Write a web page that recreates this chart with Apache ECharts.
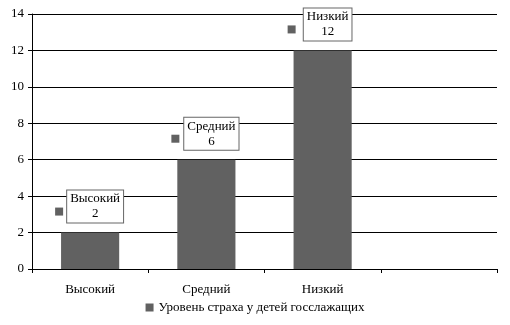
<!DOCTYPE html>
<html>
<head>
<meta charset="utf-8">
<script src="https://cdn.jsdelivr.net/npm/echarts@6/dist/echarts.min.js"></script>
<style>
  html, body { margin: 0; padding: 0; background: #fff; }
  #barChart { width: 510px; height: 325px; }
</style>
</head>
<body>
<div id="barChart"></div>
<script>
// categories (the 4th slot is empty in the original)
const categories = ['Высокий', 'Средний', 'Низкий', ''];
const fearLevel = [2, 6, 12];
const seriesName = 'Уровень страха у детей госслажащих';
const yTicks = { min: 0, max: 14, interval: 2 };

const font = '"Liberation Serif", "Times New Roman", serif';
const barColor = '#616161';

const chartOption = {
    animation: false,
    textStyle: { fontFamily: font },
    legend: {
        show: true,
        bottom: 6,
        left: 'center',
        icon: 'rect',
        itemWidth: 8,
        itemHeight: 8,
        itemGap: 4,
        textStyle: { color: '#000', fontSize: 13, fontFamily: font },
        data: [seriesName]
    },
    grid: {
        top: 14, left: 32, right: 13, bottom: 56
    },
    xAxis: {
        type: 'category',
        data: categories,
        boundaryGap: true,
        axisTick: { show: true, length: 4, alignWithLabel: false, lineStyle: { color: '#000' } },
        axisLine: { show: true, lineStyle: { color: '#000', width: 1 } },
        axisLabel: { color: '#000', fontSize: 13, fontFamily: font, margin: 14 },
        splitLine: { show: false }
    },
    yAxis: {
        type: 'value',
        min: yTicks.min,
        max: yTicks.max,
        interval: yTicks.interval,
        axisTick: { show: true, length: 4, lineStyle: { color: '#000' } },
        axisLine: { show: true, lineStyle: { color: '#000', width: 1 } },
        axisLabel: { color: '#000', fontSize: 13, fontFamily: font, margin: 8 },
        splitLine: { show: true, lineStyle: { color: '#000', width: 1 } }
    },
    series: [
        {
            name: seriesName,
            type: 'bar',
            data: fearLevel,
            barWidth: '50%',
            itemStyle: { color: barColor },
            label: {
                show: true,
                position: 'top',
                distance: 10,
                offset: [5, 0],
                formatter: '{b}\n{c}',
                color: '#000',
                fontSize: 13,
                fontFamily: font,
                lineHeight: 15,
                align: 'center',
                backgroundColor: '#fff',
                borderColor: '#666',
                borderWidth: 1,
                padding: [1, 3, 1, 3]
            },
            markPoint: {
                symbol: 'rect',
                symbolSize: 8,
                symbolOffset: [-31, -21],
                silent: true,
                itemStyle: { color: barColor },
                label: { show: false },
                data: fearLevel.map((v, i) => ({ coord: [i, v] }))
            }
        }
    ]
};

const myChart = echarts.init(document.getElementById('barChart'));
myChart.setOption(chartOption);
</script>
</body>
</html>
